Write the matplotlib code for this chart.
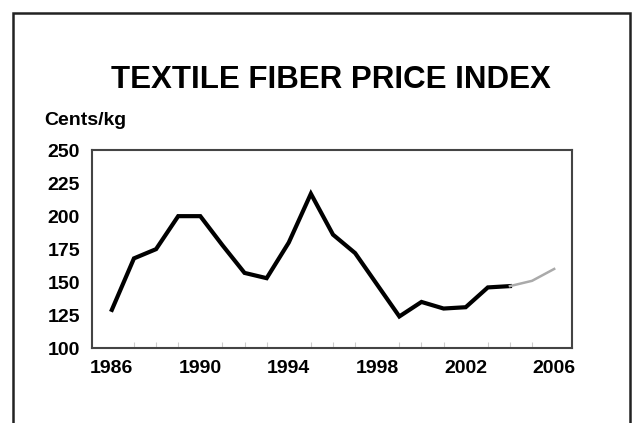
import matplotlib
matplotlib.use("Agg")
import matplotlib.pyplot as plt
from matplotlib.patches import Rectangle
from matplotlib.ticker import MultipleLocator

years = [1986, 1987, 1988, 1989, 1990, 1991, 1992, 1993, 1994, 1995,
         1996, 1997, 1998, 1999, 2000, 2001, 2002, 2003, 2004]
values = [129, 168, 175, 200, 200, 178, 157, 153, 180, 217,
          186, 172, 148, 124, 135, 130, 131, 146, 147]
proj_years = [2004, 2005, 2006]
proj_values = [147, 151, 160]
yticks = [100, 125, 150, 175, 200, 225, 250]
xticks = [1986, 1990, 1994, 1998, 2002, 2006]

plt.rcParams['font.family'] = ['Liberation Sans', 'DejaVu Sans']

fig = plt.figure(figsize=(6.34, 4.23), dpi=100)
fig.patch.set_facecolor('white')

# outer frame
fig.patches.append(Rectangle((0.021, -0.1), 0.973, 1.069, transform=fig.transFigure,
                             fill=False, edgecolor='#222222', linewidth=1.8))

ax = fig.add_axes([0.145, 0.177, 0.757, 0.468])
ax.plot(years, values, color='black', linewidth=3.0, solid_joinstyle='miter')
ax.plot(proj_years, proj_values, color='#aaaaaa', linewidth=1.8)

ax.set_xlim(1985.1, 2006.8)
ax.set_ylim(100, 250)
ax.set_xticks(xticks)
ax.set_yticks(yticks)
ax.xaxis.set_minor_locator(MultipleLocator(1))
ax.tick_params(axis='both', which='major', length=0, labelsize=14)
ax.tick_params(axis='x', pad=8.5)
ax.tick_params(axis='y', pad=8.5)
ax.tick_params(axis='x', which='minor', direction='in', length=4, color='#cccccc', width=0.8)
for lab in ax.get_xticklabels() + ax.get_yticklabels():
    lab.set_fontweight('bold')
for s in ax.spines.values():
    s.set_color('#444444')
    s.set_linewidth(1.5)

fig.text(0.522, 0.811, 'TEXTILE FIBER PRICE INDEX', ha='center', va='center',
         fontsize=22.5, fontweight='bold')
fig.text(0.070, 0.715, 'Cents/kg', ha='left', va='center', fontsize=14, fontweight='bold')

fig.savefig('out.png', dpi=100)
